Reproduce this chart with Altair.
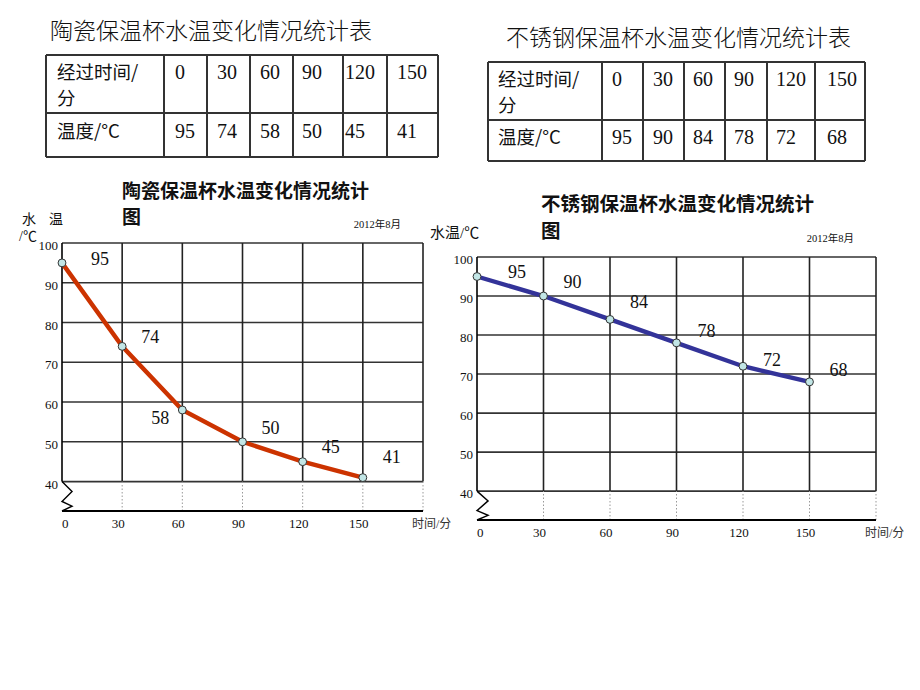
import altair as alt
import pandas as pd

# ---------------- data ----------------
times = [0, 30, 60, 90, 120, 150]
ceramic_temps = [95, 74, 58, 50, 45, 41]
steel_temps = [95, 90, 84, 78, 72, 68]
y_ticks = [40, 50, 60, 70, 80, 90, 100]
grid_x = [30, 60, 90, 120, 150, 180]
x_tick_labels = ["0", "30", "60", "90", "120", "150"]
zig_x = [0, 5, 0, 5, 0]
zig_y = [40, 37.5, 35, 33.8, 32.6]

ceramic_table_title = "陶瓷保温杯水温变化情况统计表"
steel_table_title = "不锈钢保温杯水温变化情况统计表"
ceramic_chart_title = "陶瓷保温杯水温变化情况统计"
steel_chart_title = "不锈钢保温杯水温变化情况统计"
title_tail = "图"
row_head_1 = "经过时间/"
row_head_1b = "分"
row_head_2 = "温度/°C"
date_text = "2012年8月"
x_title = "时间/分"

Y_MIN = 32.6
NUM = "Liberation Serif"
SERIF = "Liberation Serif, Noto Sans CJK SC"
SANS = "Noto Sans CJK SC"

one = pd.DataFrame({"k": [0]})


def txt(text, x, y, size, font=SANS, weight="normal", align="left", color="#111"):
    return alt.Chart(one).mark_text(
        text=text, font=font, fontSize=size, fontWeight=weight, align=align,
        baseline="middle", color=color
    ).encode(x=alt.value(x), y=alt.value(y))


def panel(temps, color, xr, yr, offsets):
    sx = alt.Scale(domain=[0, 180], range=xr, nice=False, zero=False)
    sy = alt.Scale(domain=[Y_MIN, 100], range=yr, nice=False, zero=False)

    def X(f):
        return alt.X(f, type="quantitative", scale=sx, axis=None)

    def Y(f):
        return alt.Y(f, type="quantitative", scale=sy, axis=None)

    hdf = pd.DataFrame({"y": y_ticks, "x0": 0, "x1": 180})
    hgrid = alt.Chart(hdf).mark_rule(color="#333", strokeWidth=1.6).encode(
        x=X("x0"), x2="x1", y=Y("y"))
    vdf = pd.DataFrame({"x": grid_x, "y0": 40, "y1": 100})
    vgrid = alt.Chart(vdf).mark_rule(color="#222", strokeWidth=1.6).encode(
        x=X("x"), y=Y("y0"), y2="y1")
    ldf = pd.DataFrame({"x": [0], "y0": [40], "y1": [100]})
    left = alt.Chart(ldf).mark_rule(color="#000", strokeWidth=1.6).encode(
        x=X("x"), y=Y("y0"), y2="y1")
    ddf = pd.DataFrame({"x": grid_x, "y0": Y_MIN, "y1": 40})
    dotted = alt.Chart(ddf).mark_rule(color="#999", strokeWidth=1, strokeDash=[1.5, 2]).encode(
        x=X("x"), y=Y("y0"), y2="y1")
    bdf = pd.DataFrame({"y": [Y_MIN], "x0": [0], "x1": [180]})
    bottom = alt.Chart(bdf).mark_rule(color="#000", strokeWidth=1.8).encode(
        x=X("x0"), x2="x1", y=Y("y"))
    zdf = pd.DataFrame({"x": zig_x, "y": zig_y, "i": list(range(len(zig_x)))})
    zig = alt.Chart(zdf).mark_line(color="#000", strokeWidth=1.4).encode(
        x=X("x"), y=Y("y"), order=alt.Order("i:Q"))

    df = pd.DataFrame({"t": times, "v": temps, "lab": [str(v) for v in temps]})
    line = alt.Chart(df).mark_line(color=color, strokeWidth=4.4).encode(x=X("t"), y=Y("v"))
    pts = alt.Chart(df).mark_circle(size=62, color="#c2e6e6", opacity=1, stroke="#333",
                                    strokeWidth=1).encode(x=X("t"), y=Y("v"))
    labels = []
    for i, (dx, dy) in enumerate(offsets):
        labels.append(
            alt.Chart(df.iloc[[i]]).mark_text(font=NUM, fontSize=18, color="#111",
                                              dx=dx, dy=dy, baseline="middle").encode(
                x=X("t"), y=Y("v"), text="lab:N"))

    ydf = pd.DataFrame({"y": y_ticks, "x": 0, "lab": [str(v) for v in y_ticks]})
    ylab = alt.Chart(ydf).mark_text(font=NUM, fontSize=13, align="right", dx=-4, dy=3,
                                    baseline="middle", color="#111").encode(
        x=X("x"), y=Y("y"), text="lab:N")
    xdf = pd.DataFrame({"x": times, "y": Y_MIN, "lab": x_tick_labels})
    xlab0 = alt.Chart(xdf.iloc[[0]]).mark_text(font=NUM, fontSize=13, align="left", dy=13,
                                               baseline="middle", color="#111").encode(
        x=X("x"), y=Y("y"), text="lab:N")
    xlab = alt.Chart(xdf.iloc[1:]).mark_text(font=NUM, fontSize=13, align="center", dx=-4,
                                             dy=13, baseline="middle", color="#111").encode(
        x=X("x"), y=Y("y"), text="lab:N")
    tdf = pd.DataFrame({"x": [180], "y": [Y_MIN], "lab": [x_title]})
    xt = alt.Chart(tdf).mark_text(font=SERIF, fontSize=12, align="left", dx=-11, dy=13,
                                  baseline="middle", color="#333").encode(
        x=X("x"), y=Y("y"), text="lab:N")
    ddf2 = pd.DataFrame({"x": [180], "y": [100], "lab": [date_text]})
    dt = alt.Chart(ddf2).mark_text(font=SERIF, fontSize=10.5, align="right", dx=-22, dy=-18,
                                   baseline="middle", color="#111").encode(
        x=X("x"), y=Y("y"), text="lab:N")
    return alt.layer(hgrid, vgrid, left, dotted, bottom, zig, line, pts, *labels,
                     ylab, xlab0, xlab, xt, dt)


def table(title, tx, ty, edges, hy, temps, num_x, head_x, r1y, fy, r2y):
    rows = []
    for y in hy:
        rows.append({"x": edges[0], "x2": edges[-1], "y": y, "y2": y})
    for x in edges:
        rows.append({"x": x, "x2": x, "y": hy[0], "y2": hy[-1]})
    ldf = pd.DataFrame(rows)
    lines = alt.Chart(ldf).mark_rule(color="#333", strokeWidth=2).encode(
        x=alt.X("x:Q", scale=None), x2="x2:Q", y=alt.Y("y:Q", scale=None), y2="y2:Q")
    cells = []
    for t, v, x in zip(times, temps, num_x):
        cells.append({"x": x, "y": r1y, "lab": str(t)})
        cells.append({"x": x, "y": r2y, "lab": str(v)})
    cdf = pd.DataFrame(cells)
    nums = alt.Chart(cdf).mark_text(font=NUM, fontSize=20, align="left", baseline="middle",
                                    color="#111").encode(
        x=alt.X("x:Q", scale=None), y=alt.Y("y:Q", scale=None), text="lab:N")
    return alt.layer(
        txt(title, tx, ty, 23, weight=300),
        lines, nums,
        txt(row_head_1, head_x, r1y, 18.5),
        txt(row_head_1b, head_x, fy, 18.5),
        txt(row_head_2, head_x, r2y, 18.5),
    )


t1 = table(ceramic_table_title, 50, 32, [46, 164, 207, 250, 293, 343, 387, 438], [55, 113, 157],
           ceramic_temps, [175, 217, 260, 302, 345, 397], 57, 73, 99, 132)
t2 = table(steel_table_title, 506, 39, [488, 602, 643, 684, 725, 767, 815, 865], [62, 120, 161],
           steel_temps, [612, 653, 693, 734, 776, 827], 498, 80, 106, 138)

c1 = panel(ceramic_temps, "#cc3300", [62, 423], [511, 243],
           [(38, -3), (28, -8), (-22, 9), (28, -13), (28, -14), (29, -20)])
c2 = panel(steel_temps, "#333399", [477, 876], [520, 257],
           [(40, -4), (29, -13), (29, -16), (30, -11), (29, -5), (29, -11)])

deco = alt.layer(
    txt(ceramic_chart_title, 122, 192, 19, weight="bold"),
    txt(title_tail, 122, 218, 19, weight="bold"),
    txt(steel_chart_title, 541, 205, 19.5, weight="bold"),
    txt(title_tail, 541, 232, 19.5, weight="bold"),
    txt("水", 22, 220, 14, font=SERIF),
    txt("温", 49, 220, 14, font=SERIF),
    txt("/℃", 19, 237, 14, font=SERIF),
    txt("水温/℃", 430, 233, 15, font=SERIF),
)

chart = alt.layer(t1, t2, c1, c2, deco).resolve_scale(
    x="independent", y="independent"
).properties(
    width=920, height=690, padding=0,
    autosize=alt.AutoSizeParams(type="none"),
    background="white",
).configure_view(stroke=None)

chart.save("out.html", embed_options={"renderer": "svg", "actions": False})
